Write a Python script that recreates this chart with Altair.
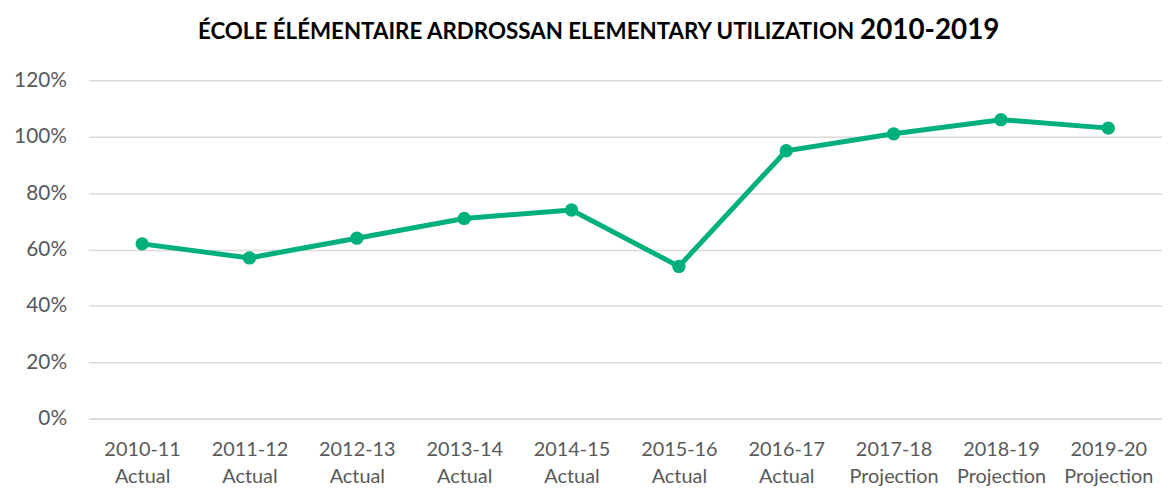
import altair as alt
import pandas as pd

years = ["2010-11", "2011-12", "2012-13", "2013-14", "2014-15",
         "2015-16", "2016-17", "2017-18", "2018-19", "2019-20"]
status = ["Actual", "Actual", "Actual", "Actual", "Actual",
          "Actual", "Actual", "Projection", "Projection", "Projection"]
utilization = [0.62, 0.57, 0.64, 0.71, 0.74, 0.54, 0.95, 1.01, 1.06, 1.03]

title_main = "ÉCOLE ÉLÉMENTAIRE ARDROSSAN ELEMENTARY UTILIZATION"
title_years = "2010-2019"

cats = [f"{y}|{s}" for y, s in zip(years, status)]
df = pd.DataFrame({"cat": cats, "util": utilization})

FONT = "Lato"
GREEN = "#00B07C"
GREY = "#595959"

x_enc = alt.X("cat:O", sort=cats, title=None,
              scale=alt.Scale(padding=0.5),
              axis=alt.Axis(labelExpr="split(datum.value, '|')", labelAngle=0,
                            labelFontSize=20, labelColor=GREY, labelFont=FONT,
                            labelLineHeight=27, labelPadding=21, ticks=False,
                            domainColor="#D9D9D9", domainWidth=1.5, grid=False,
                            labelBaseline="top"))
y_enc = alt.Y("util:Q", title=None,
              scale=alt.Scale(domain=[0, 1.2], nice=False),
              axis=alt.Axis(format=".0%", values=[0, 0.2, 0.4, 0.6, 0.8, 1.0, 1.2],
                            labelFontSize=21, labelColor=GREY, labelFont=FONT,
                            labelPadding=22, ticks=False, domain=False,
                            gridColor="#D9D9D9", gridWidth=1.5))

base = alt.Chart(df)
line = base.mark_line(color=GREEN, strokeWidth=5).encode(x=x_enc, y=y_enc)
pts = base.mark_circle(color=GREEN, size=180, opacity=1).encode(x=x_enc, y=y_enc)

tdf = pd.DataFrame({"a": [title_main], "b": [title_years]})
t1 = alt.Chart(tdf).mark_text(font=FONT, fontWeight="bold", fontSize=22.5,
                              align="right", baseline="alphabetic",
                              color="#000000").encode(
    text="a:N", x=alt.value(771), y=alt.value(-41))
t2 = alt.Chart(tdf).mark_text(font=FONT, fontWeight="bold", fontSize=28,
                              align="left", baseline="alphabetic",
                              color="#000000").encode(
    text="b:N", x=alt.value(777), y=alt.value(-41))

chart = alt.layer(line, pts, t1, t2).properties(
    width=1081, height=341,
    autosize=alt.AutoSizeParams(type="none"),
    padding={"left": 81, "top": 71, "right": 0, "bottom": 70},
).configure(background="white").configure_view(stroke=None)

chart.save("out.html", embed_options={"renderer": "svg", "actions": False})
